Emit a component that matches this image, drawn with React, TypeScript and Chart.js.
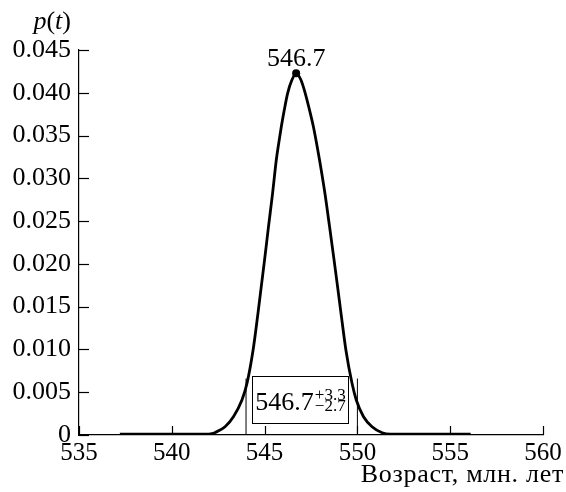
import React, { useEffect, useRef } from 'react';
import { Chart, registerables } from 'chart.js';

Chart.register(...registerables);

// Age (Ma) and probability density p(t)
const ageValues = [537.2, 542.0, 542.16, 542.34, 542.87, 543.32, 543.78, 544.05, 544.38, 544.62, 544.84, 545.0, 545.21, 545.43, 545.63, 545.76, 545.9, 546.06, 546.24, 546.47, 546.7, 546.96, 547.19, 547.42, 547.63, 547.8, 547.96, 548.25, 548.5, 548.74, 548.91, 549.14, 549.38, 549.71, 549.94, 550.33, 550.79, 551.33, 551.77, 556.1];
const densityValues = [0.0001, 0.0001, 0.00015, 0.0003, 0.00097, 0.00214, 0.00409, 0.00604, 0.00994, 0.01383, 0.0177, 0.0205, 0.02435, 0.02825, 0.03214, 0.03409, 0.03603, 0.03799, 0.03994, 0.04149, 0.04227, 0.04149, 0.03994, 0.03799, 0.03603, 0.03409, 0.03214, 0.02825, 0.02435, 0.0205, 0.0177, 0.01383, 0.00994, 0.00604, 0.00409, 0.00214, 0.00097, 0.00027, 0.0001, 0.0001];

const peakAge = [546.7];
const peakDensity = [0.04227];
const intervalAges = [544.0, 550.0];
const intervalLineTop = [0.0066, 0.0066];

const peakLabel = '546.7';
const intervalMain = '546.7';
const intervalPlus = '+3.3';
const intervalMinus = '\u22122.7';
const xTitle = 'Возраст, млн. лет';

const xTickValues = [535, 540, 545, 550, 555, 560];
const yTickValues = [0, 0.005, 0.01, 0.015, 0.02, 0.025, 0.03, 0.035, 0.04, 0.045];

const SERIF = '"Liberation Serif", "Times New Roman", serif';

export default function App() {
  const ref = useRef<HTMLCanvasElement | null>(null);

  useEffect(() => {
    if (!ref.current) return;

    const annotate = {
      id: 'annotate',
      afterDraw(chart: any) {
        const { ctx } = chart;
        const x = chart.scales.x;
        const y = chart.scales.y;
        ctx.save();
        ctx.strokeStyle = '#000';
        ctx.lineWidth = 1.2;
        // inward tick marks
        xTickValues.forEach((v) => {
          const px = Math.round(x.getPixelForValue(v)) + 0.5;
          ctx.beginPath();
          ctx.moveTo(px, y.bottom);
          ctx.lineTo(px, y.bottom - 9);
          ctx.stroke();
        });
        yTickValues.forEach((v) => {
          const py = Math.round(y.getPixelForValue(v)) + 0.5;
          ctx.beginPath();
          ctx.moveTo(x.left, py);
          ctx.lineTo(x.left + 10, py);
          ctx.stroke();
        });

        ctx.fillStyle = '#000';
        // peak label
        ctx.font = '26px ' + SERIF;
        ctx.textAlign = 'center';
        ctx.textBaseline = 'alphabetic';
        ctx.fillText(peakLabel, x.getPixelForValue(peakAge[0]), y.getPixelForValue(peakDensity[0]) - 7);

        // interval box
        const bl = Math.round(x.getPixelForValue(544.3)) + 0.5;
        const br = Math.round(x.getPixelForValue(549.5)) + 0.5;
        const bt = Math.round(y.getPixelForValue(0.0069)) + 0.5;
        const bb = Math.round(y.getPixelForValue(0.00135)) + 0.5;
        ctx.fillStyle = '#fff';
        ctx.fillRect(bl, bt, br - bl, bb - bt);
        ctx.lineWidth = 1;
        ctx.strokeRect(bl, bt, br - bl, bb - bt);
        ctx.fillStyle = '#000';
        ctx.textAlign = 'left';
        ctx.font = '26px ' + SERIF;
        const mainW = ctx.measureText(intervalMain).width;
        ctx.font = '17px ' + SERIF;
        const supW = Math.max(ctx.measureText(intervalPlus).width, ctx.measureText(intervalMinus).width);
        const totalW = mainW + 1 + supW;
        const sx = (bl + br) / 2 - totalW / 2;
        ctx.font = '26px ' + SERIF;
        ctx.fillText(intervalMain, sx, bb - 14);
        ctx.font = '17px ' + SERIF;
        ctx.fillText(intervalPlus, sx + mainW + 1, bb - 24);
        ctx.fillText(intervalMinus, sx + mainW + 1, bb - 12.5);

        // y-axis title p(t)
        const parts: [string, boolean][] = [['p', true], ['(', false], ['t', true], [')', false]];
        const fontFor = (it: boolean) => (it ? 'italic ' : '') + '26px ' + SERIF;
        let w = 0;
        parts.forEach(([s, it]) => { ctx.font = fontFor(it); w += ctx.measureText(s).width; });
        let cx = 71 - w;
        parts.forEach(([s, it]) => {
          ctx.font = fontFor(it);
          ctx.fillText(s, cx, 29);
          cx += ctx.measureText(s).width;
        });

        // x-axis title
        ctx.font = '26px ' + SERIF;
        ctx.textAlign = 'right';
        try { (ctx as any).letterSpacing = '0.7px'; } catch (e) { /* ignore */ }
        ctx.fillText(xTitle, 564, 482);
        ctx.restore();
      },
    };

    const chart = new Chart(ref.current, {
      type: 'line',
      data: {
        datasets: [
          {
            data: ageValues.map((a, i) => ({ x: a, y: densityValues[i] })),
            borderColor: '#000',
            borderWidth: 2.8,
            pointRadius: 0,
            fill: false,
            cubicInterpolationMode: 'monotone',
          },
          {
            data: peakAge.map((a, i) => ({ x: a, y: peakDensity[i] })),
            borderColor: '#000',
            backgroundColor: '#000',
            showLine: false,
            pointRadius: 4,
            pointBorderWidth: 0,
          },
          {
            data: [{ x: intervalAges[0], y: 0 }, { x: intervalAges[0], y: intervalLineTop[0] }],
            borderColor: '#000',
            borderWidth: 1,
            pointRadius: 0,
          },
          {
            data: [{ x: intervalAges[1], y: 0 }, { x: intervalAges[1], y: intervalLineTop[1] }],
            borderColor: '#000',
            borderWidth: 1,
            pointRadius: 0,
          },
        ],
      },
      options: {
        responsive: false,
        animation: false,
        devicePixelRatio: 1,
        layout: { padding: { left: 0, top: 50, right: 23, bottom: 0 } },
        plugins: { legend: { display: false }, tooltip: { enabled: false } },
        scales: {
          x: {
            type: 'linear',
            min: 535,
            max: 560,
            afterBuildTicks: (s: any) => { s.ticks = xTickValues.map((v) => ({ value: v })); },
            afterFit: (s: any) => { s.height = 57; s.paddingLeft = 0; s.paddingRight = 0; },
            grid: { display: false, drawTicks: false },
            border: { display: true, color: '#000', width: 1.2 },
            ticks: {
              color: '#000',
              font: { family: SERIF, size: 25 },
              padding: 3,
              maxRotation: 0,
              autoSkip: false,
              callback: (v: any) => String(v),
            },
          },
          y: {
            type: 'linear',
            min: 0,
            max: 0.045,
            afterBuildTicks: (s: any) => { s.ticks = yTickValues.map((v) => ({ value: v })); },
            afterFit: (s: any) => { s.width = 79; s.paddingTop = 0; s.paddingBottom = 0; },
            grid: { display: false, drawTicks: false },
            border: { display: true, color: '#000', width: 1.2 },
            ticks: {
              color: '#000',
              font: { family: SERIF, size: 26 },
              padding: 8,
              autoSkip: false,
              callback: (v: any) => (v === 0 ? '0' : Number(v).toFixed(3)),
            },
          },
        },
      },
      plugins: [annotate],
    } as any);

    return () => chart.destroy();
  }, []);

  return (
    <div style={{ position: 'fixed', left: 0, top: 0, width: 566, height: 492, background: '#fff' }}>
      <canvas ref={ref} width={566} height={492} />
    </div>
  );
}
